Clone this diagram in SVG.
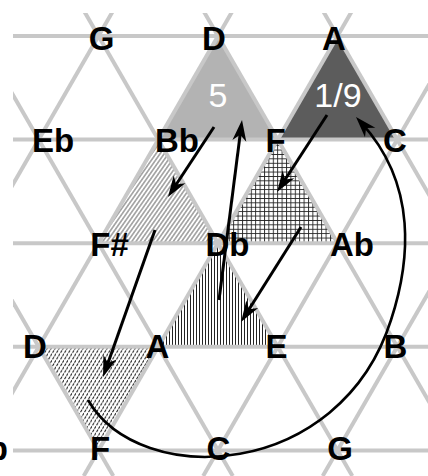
<svg xmlns="http://www.w3.org/2000/svg" width="428" height="476" viewBox="0 0 428 476">
<style>
.grid line{stroke:#c8c8c8;stroke-width:4}
.lbl{font-family:"Liberation Sans",Arial,sans-serif;font-weight:bold;font-size:33px;fill:#000;text-anchor:middle}
.num{font-family:"Liberation Sans",Arial,sans-serif;font-size:34px;fill:#fff;text-anchor:middle}
.arr{stroke:#000;stroke-width:3;fill:none;marker-end:url(#ah)}
.arc{stroke:#000;stroke-width:2.6;fill:none;marker-end:url(#ah)}
</style>
<defs>
<clipPath id="clip"><rect x="13" y="13" width="415" height="463"/></clipPath>
<marker id="ah" viewBox="-14 -8 24 16" refX="0" refY="0" markerWidth="24" markerHeight="16" markerUnits="userSpaceOnUse" orient="auto"><path d="M8,0 L-13,-7 L-7,0 L-13,7 Z" fill="#000"/></marker>
<pattern id="hDiag" patternUnits="userSpaceOnUse" width="3.4" height="10" patternTransform="rotate(35)"><rect width="3.4" height="10" fill="#fff"/><line x1="1.7" y1="0" x2="1.7" y2="10" stroke="#555" stroke-width="0.9"/></pattern>
<pattern id="hCross" patternUnits="userSpaceOnUse" width="4.4" height="4.4"><rect width="4.4" height="4.4" fill="#fff"/><path d="M0,0.5 H4.4 M0.5,0 V4.4" stroke="#222" stroke-width="0.9"/></pattern>
<pattern id="hVert" patternUnits="userSpaceOnUse" width="3" height="4"><rect width="3" height="4" fill="#fff"/><line x1="1.5" y1="0" x2="1.5" y2="4" stroke="#222" stroke-width="1"/></pattern>
<pattern id="hDash" patternUnits="userSpaceOnUse" width="4" height="6.6"><rect width="4" height="6.6" fill="#fff"/><path d="M0.5,3 L2.1,0.5 M2.5,6.3 L4.1,3.8" stroke="#222" stroke-width="1.1"/></pattern>
</defs>
<rect width="428" height="476" fill="#fff"/>

<g id="triangles">
<g id="tri-5"><polygon points="218,36 158.25,139.6 277.75,139.6" fill="#b3b3b3"/><text class="num" x="218" y="107">5</text></g>
<g id="tri-19"><polygon points="337.5,36 277.75,139.6 397.25,139.6" fill="#5c5c5c"/><text class="num" x="338" y="107">1/9</text></g>
<g id="tri-diag"><polygon points="158.25,139.6 98.5,243.2 218,243.2" fill="url(#hDiag)"/></g>
<g id="tri-cross"><polygon points="277.75,139.6 218,243.2 337.5,243.2" fill="url(#hCross)"/></g>
<g id="tri-vert"><polygon points="218,243.2 158.25,346.8 277.75,346.8" fill="url(#hVert)"/></g>
<g id="tri-dash"><polygon points="38.75,346.8 158.25,346.8 98.5,450.4" fill="url(#hDash)"/></g>
</g>

<g id="grid" class="grid" clip-path="url(#clip)">
<line x1="0" y1="36" x2="428" y2="36"/>
<line x1="0" y1="139.6" x2="428" y2="139.6"/>
<line x1="0" y1="243.2" x2="428" y2="243.2"/>
<line x1="0" y1="346.8" x2="428" y2="346.8"/>
<line x1="0" y1="450.4" x2="428" y2="450.4"/>
<line x1="-161.3" y1="0" x2="113.3" y2="476"/>
<line x1="-41.8" y1="0" x2="232.8" y2="476"/>
<line x1="77.7" y1="0" x2="352.3" y2="476"/>
<line x1="197.2" y1="0" x2="471.8" y2="476"/>
<line x1="316.7" y1="0" x2="591.3" y2="476"/>
<line x1="119.3" y1="0" x2="-155.3" y2="476"/>
<line x1="238.8" y1="0" x2="-35.8" y2="476"/>
<line x1="358.3" y1="0" x2="83.7" y2="476"/>
<line x1="477.8" y1="0" x2="203.2" y2="476"/>
<line x1="597.3" y1="0" x2="322.7" y2="476"/>
</g>

<g id="labels">
<g id="n-G0"><text class="lbl" x="101.5" y="50">G</text></g>
<g id="n-D0"><text class="lbl" x="214" y="50">D</text></g>
<g id="n-A0"><text class="lbl" x="334" y="50">A</text></g>
<g id="n-Eb1"><text class="lbl" x="53" y="151.5">Eb</text></g>
<g id="n-Bb1"><text class="lbl" x="177" y="151.5">Bb</text></g>
<g id="n-F1"><text class="lbl" x="275.5" y="151.5">F</text></g>
<g id="n-C1"><text class="lbl" x="395" y="151.5">C</text></g>
<g id="n-Fs2"><text class="lbl" x="109.5" y="256">F#</text></g>
<g id="n-Db2"><text class="lbl" x="227.5" y="256">Db</text></g>
<g id="n-Ab2"><text class="lbl" x="352" y="256">Ab</text></g>
<g id="n-D3"><text class="lbl" x="35" y="358">D</text></g>
<g id="n-A3"><text class="lbl" x="157.5" y="358">A</text></g>
<g id="n-E3"><text class="lbl" x="276.5" y="358">E</text></g>
<g id="n-B3"><text class="lbl" x="395.5" y="358">B</text></g>
<g id="n-Bb4"><text class="lbl" x="-14" y="460">Bb</text></g>
<g id="n-F4"><text class="lbl" x="100" y="460">F</text></g>
<g id="n-C4"><text class="lbl" x="218.5" y="460">C</text></g>
<g id="n-G4"><text class="lbl" x="340" y="460">G</text></g>
</g>

<g id="connectors">
<line class="arr" x1="214" y1="127" x2="172.4" y2="190.3"/>
<line class="arr" x1="155" y1="230" x2="105.7" y2="369.5"/>
<line class="arr" x1="219" y1="300" x2="241" y2="127.9"/>
<line class="arr" x1="327" y1="115" x2="281.4" y2="185.3"/>
<line class="arr" x1="301" y1="227" x2="245.3" y2="315.2"/>
<path class="arc" d="M88,400 C140,490 340,480 391,320 C410,262 418,185 361.4,122.9"/>
</g>
</svg>
